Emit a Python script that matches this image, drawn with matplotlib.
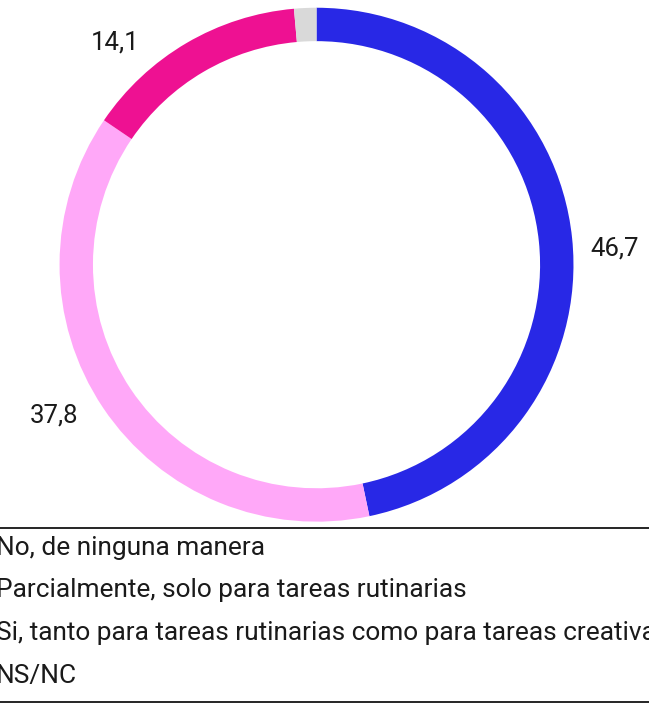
import matplotlib.pyplot as plt
from matplotlib.lines import Line2D

plt.rcParams['font.family'] = ['Roboto', 'DejaVu Sans']

categories = ['No, de ninguna manera',
              'Parcialmente, solo para tareas rutinarias',
              'Si, tanto para tareas rutinarias como para tareas creativas',
              'NS/NC']
values = [46.7, 37.8, 14.1, 1.4]
labels = ['46,7', '37,8', '14,1', '']
colors = ['#2828e6', '#ffa8f8', '#ee1192', '#d9d9d9']

# where the value labels sit, in units of the donut radius
label_pos = [(1.16, 0.064), (-1.02, -0.586), (-0.784, 0.866), (0, 0)]

fig = plt.figure(figsize=(6.49, 7.04), dpi=100)
ax = fig.add_axes([0.0917, 0.259, 0.792, 0.730])

ax.pie(values, colors=colors, startangle=90, counterclock=False, radius=1,
       wedgeprops=dict(width=0.13, edgecolor='none'))
for lab, (x, y) in zip(labels, label_pos):
    if lab:
        ax.text(x, y, lab, fontsize=18.5, color='#1a1a1a', ha='center', va='center')
ax.set_xlim(-1, 1)
ax.set_ylim(-1, 1)
ax.set_aspect('equal')
ax.axis('off')

# legend block under the donut
top, bottom = 1 - 528 / 704, 1 - 702 / 704
fig.add_artist(Line2D([0, 1], [top, top], color='black', lw=1.2, transform=fig.transFigure))
fig.add_artist(Line2D([0, 1], [bottom, bottom], color='black', lw=1.2, transform=fig.transFigure))
rows = [548, 590, 633, 676]
for name, y in zip(categories, rows):
    fig.text(-4 / 649, 1 - y / 704, name, fontsize=18.9, color='#1a1a1a',
             ha='left', va='center')

fig.savefig('out.png', dpi=100)
